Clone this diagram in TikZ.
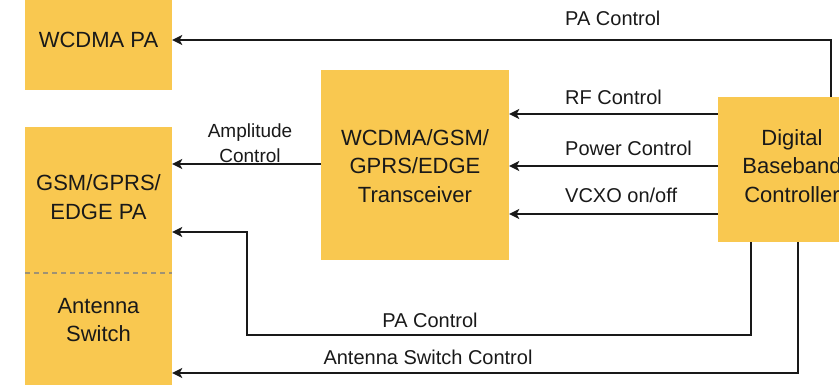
\documentclass[tikz,border=0pt]{standalone}
\usepackage{fontspec}
\setmainfont{Liberation Sans}
\usetikzlibrary{arrows.meta,calc}
\definecolor{boxy}{RGB}{249,200,80}
\definecolor{ink}{RGB}{25,25,25}
\begin{document}
\begin{tikzpicture}[x=1pt,y=-1pt,
  blk/.style={fill=boxy,draw=none,rectangle,inner sep=0pt},
  btxt/.style={font=\fontsize{22}{28.5}\selectfont,align=center,text=ink,inner sep=0pt},
  lbl/.style={font=\fontsize{20}{25}\selectfont,text=ink,inner sep=0pt},
  arr/.style={draw=ink,line width=2pt,-{Stealth[length=10pt,width=10pt,inset=2.5pt]}},
  wire/.style={draw=ink,line width=2pt}]
\useasboundingbox (0,0) rectangle (839,385);
\clip (0,0) rectangle (839,385);
% blocks
\node[blk,minimum width=147pt,minimum height=100pt] (wpa) at (98.5,40) {};
\node[btxt] (wpatxt) at (98.5,40) {WCDMA PA};
\node[blk,minimum width=147pt,minimum height=273pt] (gsm) at (98.5,263.5) {};
\node[btxt] (gsmtxt) at (98.5,197) {GSM/GPRS/\\EDGE PA};
\node[btxt] (anttxt) at (98.5,320) {Antenna\\Switch};
\coordinate (dl) at (25,273);
\coordinate (dr) at (172,273);
\draw[gray!75!boxy,line width=2pt,dash pattern=on 5pt off 4pt] (dl) -- (dr);
\node[blk,minimum width=188pt,minimum height=190pt] (trx) at (415,165) {};
\node[btxt] (trxtxt) at (415,166) {WCDMA/GSM/\\GPRS/EDGE\\Transceiver};
\node[blk,minimum width=148pt,minimum height=145pt] (ctrl) at (792,169.5) {};
\node[btxt] (ctrltxt) at (792,166) {Digital\\Baseband\\Controller};
% connectors
\coordinate (tA) at (831,40);
\draw[arr] (ctrl.north -| tA) -- (tA) -- (wpa.east |- tA);
\node[lbl,anchor=base west] (lpa) at (565,26) {PA Control};
\draw[arr] (ctrl.west |- 0,114) -- (trx.east |- 0,114);
\node[lbl,anchor=base west] (lrf) at (565,105) {RF Control};
\draw[arr] (ctrl.west |- 0,166) -- (trx.east |- 0,166);
\node[lbl,anchor=base west] (lpw) at (565,156) {Power Control};
\draw[arr] (ctrl.west |- 0,214) -- (trx.east |- 0,214);
\node[lbl,anchor=base west] (lvc) at (565,203) {VCXO on/off};
\draw[arr] (trx.west |- 0,164) -- (gsm.east |- 0,164);
\node[lbl,align=center,font=\fontsize{19}{25}\selectfont] (lamp) at (250,143) {Amplitude\\Control};
\coordinate (b1) at (751,335);
\coordinate (b2) at (247,335);
\coordinate (b3) at (247,232);
\draw[arr] (ctrl.south -| b1) -- (b1) -- (b2) -- (b3) -- (gsm.east |- b3);
\node[lbl,anchor=base] (lpab) at (430,327) {PA Control};
\coordinate (c1) at (798,373);
\draw[arr] (ctrl.south -| c1) -- (c1) -- (gsm.east |- c1);
\node[lbl,anchor=base] (lasc) at (428,364) {Antenna Switch Control};
\end{tikzpicture}
\end{document}
